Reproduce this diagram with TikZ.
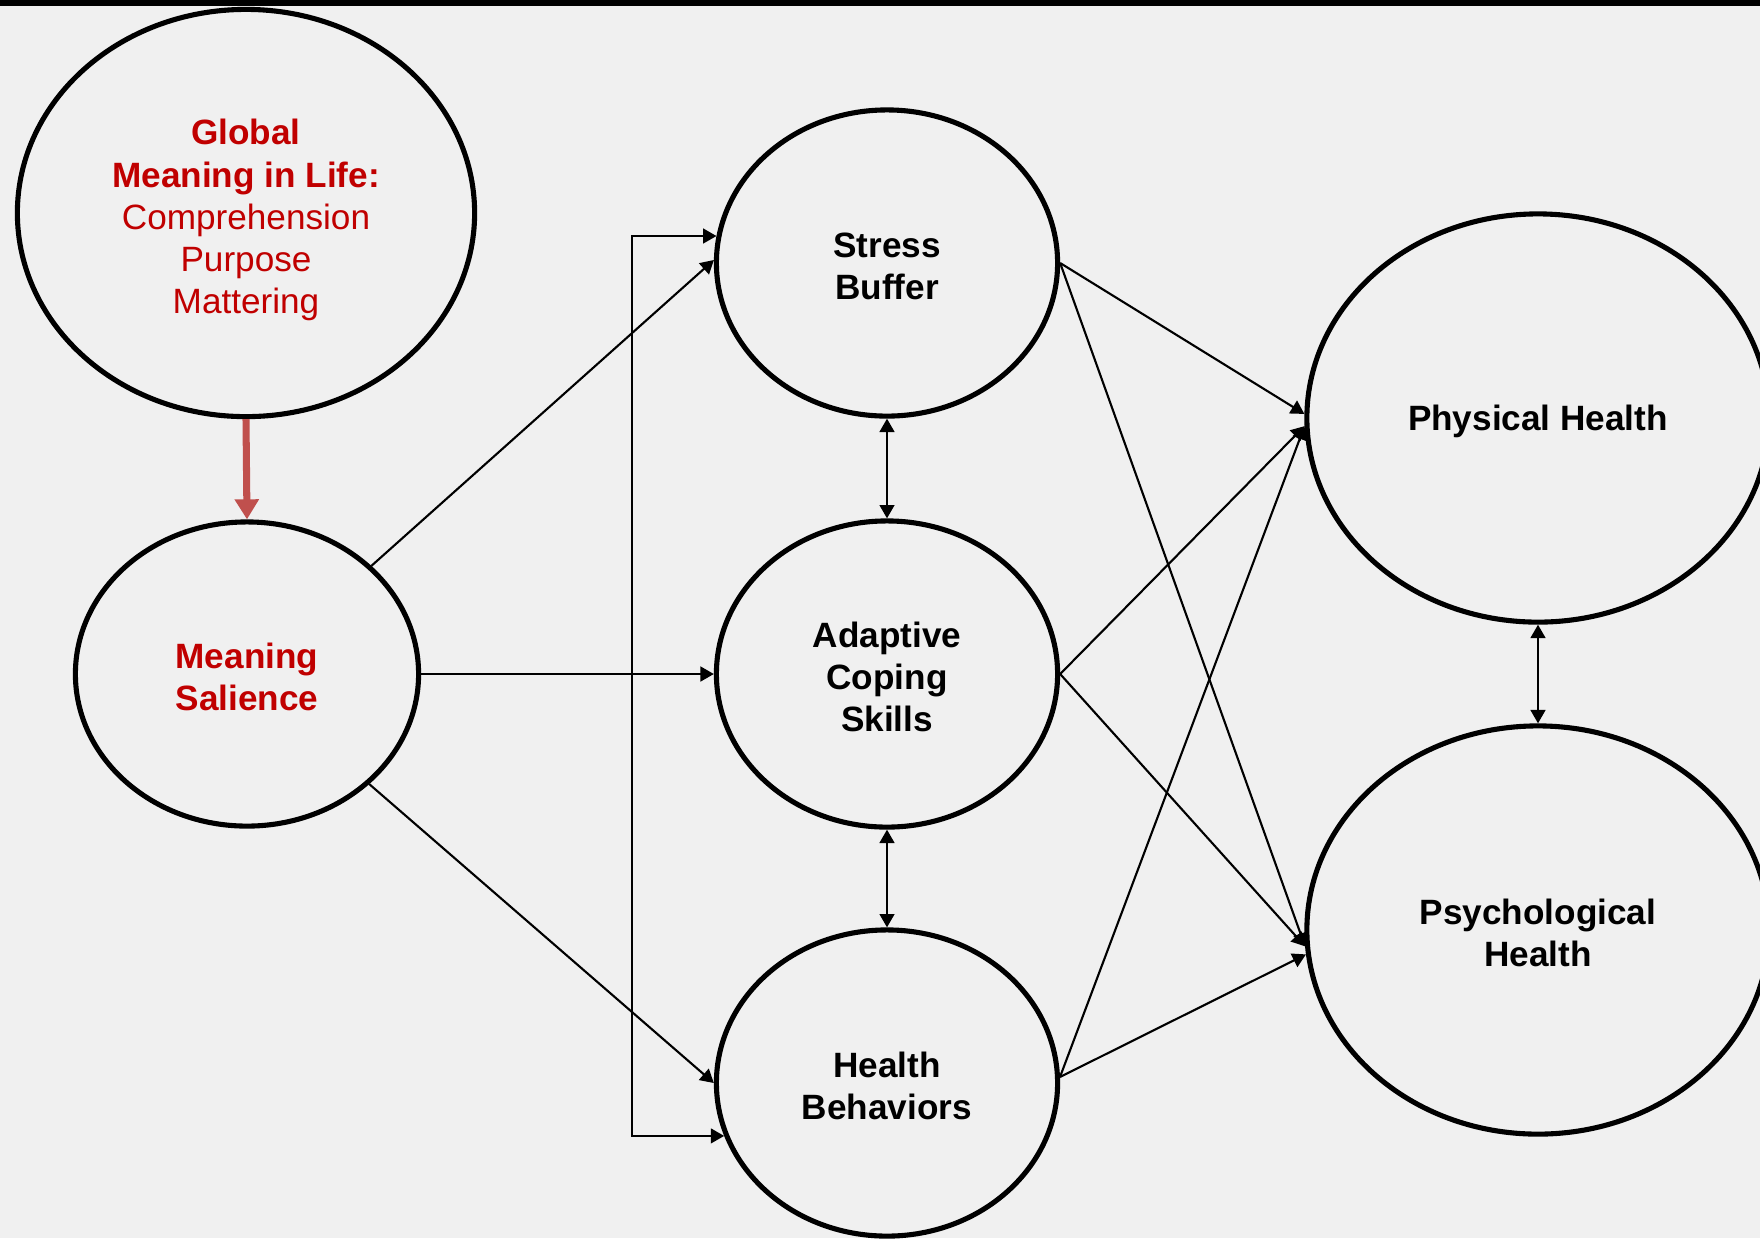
\documentclass[tikz,border=0pt]{standalone}
\usepackage{fontspec}
\setmainfont{Liberation Sans}
\usetikzlibrary{shapes.geometric}
\usetikzlibrary{arrows.meta}
\definecolor{meaningred}{RGB}{192,0,0}
\definecolor{arrowred}{RGB}{192,80,77}
\definecolor{slidebg}{RGB}{240,240,240}
% invisible strut that pushes a text block down a little
\newcommand{\textlift}[1]{\rule{0pt}{#1}}
\tikzset{
        construct/.style={ellipse, align=center, inner sep=0pt, draw=black, line width=1.45pt, font=\fontsize{10}{12}\selectfont},
        % Global meaning node
        node_global/.style={construct, meaningred, draw=black, minimum width=4.57cm, minimum height=4.07cm},
        % Meaning salience node
        node_salience/.style={construct, meaningred, draw=black, font=\fontsize{10}{12}\selectfont\bfseries, minimum width=3.43cm, minimum height=3.04cm},
        % Mediator nodes
        node_mediator/.style={construct, black, font=\fontsize{10}{12}\selectfont\bfseries, minimum width=3.41cm, minimum height=3.06cm},
        % Outcome nodes
        node_outcome/.style={construct, black, font=\fontsize{10}{12}\selectfont\bfseries, minimum width=4.62cm, minimum height=4.08cm},
        % Connectors
        path_arrow/.style={-{Triangle[length=3.8pt,width=4.2pt]}, line width=0.6pt},
        path_double/.style={{Triangle[length=3.8pt,width=4.2pt]}-{Triangle[length=3.8pt,width=4.2pt]}, line width=0.6pt},
        path_red/.style={-{Triangle[length=5.7pt,width=6.6pt]}, line width=2pt, draw=arrowred}
}
\begin{document}
\begin{tikzpicture}[x=0.01cm, y=-0.01cm]
    \fill[slidebg] (0,0) rectangle (1760,1238);
    \clip (0,0) rectangle (1760,1238);
    \fill[black] (0,0) rectangle (1760,6);

    \node[node_global] (global) at (246,213) {\textlift{11.3pt}\textbf{Global}\\\textbf{Meaning in Life:}\\Comprehension\\Purpose\\Mattering};
    \node[node_salience] (salience) at (247,674) {\textlift{9pt}Meaning\\Salience};

    \node[node_mediator] (stress) at (887,263) {\textlift{9pt}Stress\\Buffer};
    \node[node_mediator] (coping) at (887,674) {\textlift{9pt}Adaptive\\Coping\\Skills};
    \node[node_mediator] (behaviors) at (887,1083) {\textlift{9pt}Health\\Behaviors};

    \node[node_outcome] (physical) at (1538,418) {\textlift{9.4pt}Physical Health};
    \node[node_outcome] (psychological) at (1538,930) {\textlift{9pt}Psychological\\Health};

    \coordinate (bracket) at (632,0);

    \draw[path_red] (global.south) -- (salience.north);

    \draw[path_arrow] (salience.41) -- (stress.179);
    \draw[path_arrow] (salience.east) -- (coping.west);
    \draw[path_arrow] (salience.-42) -- (behaviors.west);
    \draw[path_double] (stress.171) -| (bracket |- behaviors.198) -- (behaviors.198);

    \draw[path_double] (stress.south) -- (coping.north);
    \draw[path_double] (coping.south) -- (behaviors.north);
    \draw[path_double] (physical.south) -- (psychological.north);

    \draw[path_arrow] (stress.east) -- (physical.179);
    \draw[path_arrow] (stress.east) -- (psychological.184);
    \draw[path_arrow] (coping.east) -- (physical.182);
    \draw[path_arrow] (coping.east) -- (psychological.184);
    \draw[path_arrow] (behaviors.2) -- (physical.182);
    \draw[path_arrow] (behaviors.2) -- (psychological.186);
\end{tikzpicture}
\end{document}
